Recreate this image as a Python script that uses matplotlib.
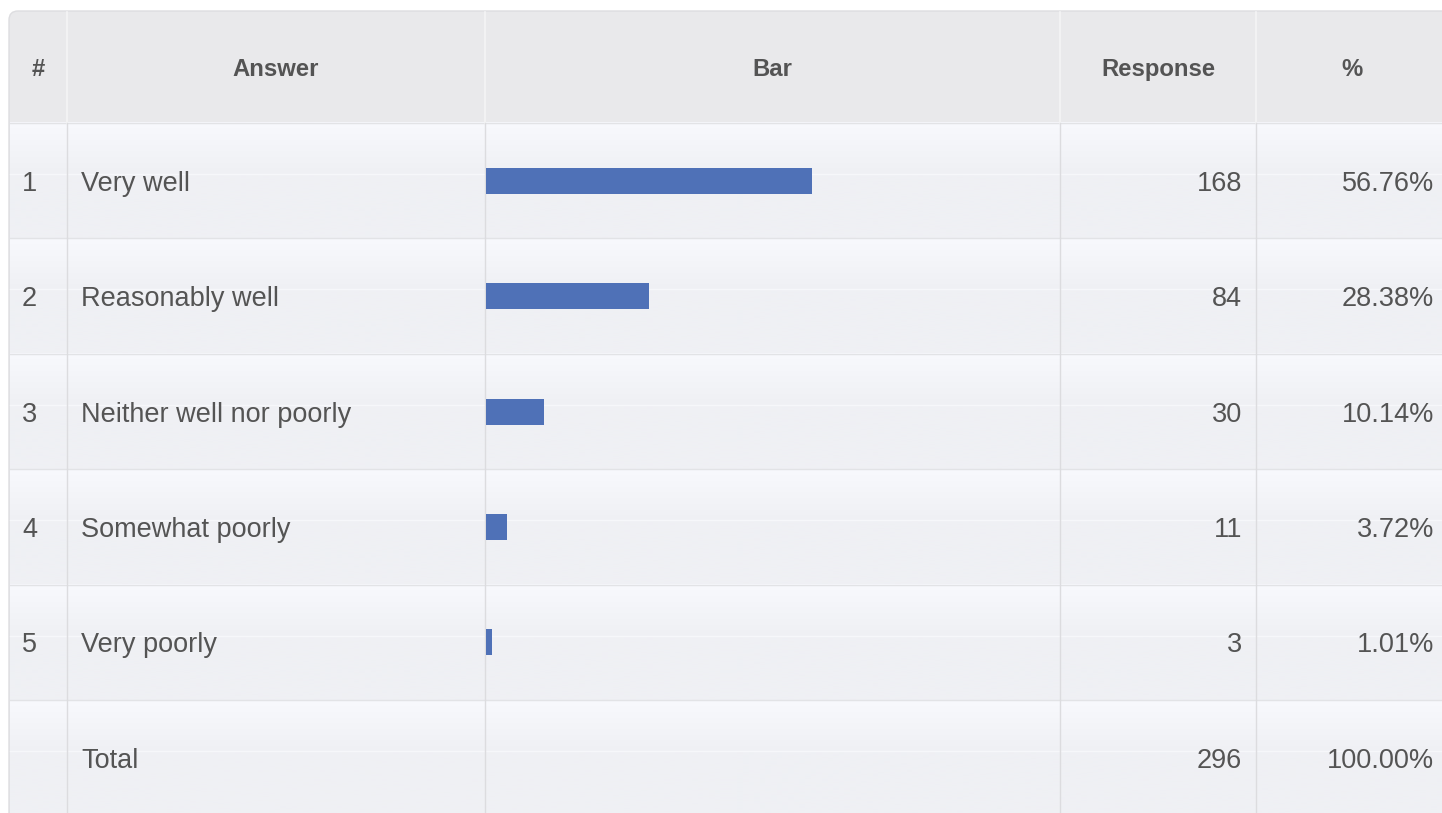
import numpy as np
import matplotlib.pyplot as plt
from matplotlib.patches import FancyBboxPatch
from matplotlib.colors import to_rgb

plt.rcParams['font.family'] = ['Liberation Sans', 'DejaVu Sans']

# survey data
numbers = ['1', '2', '3', '4', '5', '']
answers = ['Very well', 'Reasonably well', 'Neither well nor poorly',
           'Somewhat poorly', 'Very poorly', 'Total']
responses = [168, 84, 30, 11, 3, 296]
percents = [56.76, 28.38, 10.14, 3.72, 1.01, 100.00]
headers = ['#', 'Answer', 'Bar', 'Response', '%']

W, H = 1442, 813
fig = plt.figure(figsize=(W / 100, H / 100), dpi=100)
fig.patch.set_facecolor('white')
ax = fig.add_axes([0, 0, 1, 1])
ax.set_xlim(0, W)
ax.set_ylim(H, 0)
ax.axis('off')

# table layout (pixels)
left, top = 9, 11
right = 1452
col_edges = [left, 67, 485, 1060, 1256, right]
head_h = 112
row_h = 115.4
text_col = '#545454'
sep_col = '#dcdcdf'
body_fs = 19.5
head_fs = 17.2

# table body with rounded top corner
frame = FancyBboxPatch((left, top), right - left, H + 40 - top,
                       boxstyle='round,pad=0,rounding_size=9',
                       facecolor='#e9e9eb', edgecolor='#dddde0', lw=1.0, zorder=1)
ax.add_patch(frame)

# row gradients
c_top = np.array(to_rgb('#f8f9fd'))
c_mid = np.array(to_rgb('#eff0f4'))
body_top = top + head_h
n_rows = len(answers)
grad_len = 51
for i in range(n_rows):
    y0 = body_top + i * row_h
    y1 = y0 + row_h
    n = int(round(row_h))
    t = np.clip(np.arange(n) / grad_len, 0, 1)[:, None]
    img = (c_top * (1 - t) + c_mid * t)[:, None, :]
    ax.imshow(img, extent=(left + 0.5, right, y1, y0), origin='upper',
              aspect='auto', zorder=2, interpolation='bilinear')
    ax.plot([left + 0.5, right], [y0 + grad_len, y0 + grad_len],
            color='#f6f7fa', lw=1.0, zorder=3)
    ax.plot([left + 0.5, right], [y0, y0], color='#e2e3e6', lw=1.0, zorder=4)
ax.set_xlim(0, W)
ax.set_ylim(H, 0)

# vertical separators
for x in col_edges[1:-1]:
    ax.plot([x, x], [top + 1, body_top], color='#f4f4f5', lw=1.2, zorder=4)
    ax.plot([x, x], [body_top, H], color=sep_col, lw=1.0, zorder=4)

# header text
head_y = top + 58.5
for j, h in enumerate(headers):
    xc = (col_edges[j] + col_edges[j + 1]) / 2
    if j == 4:
        xc = 1352
    ax.text(xc, head_y, h, ha='center', va='center', fontsize=head_fs,
            fontweight='bold', color=text_col, zorder=5)

# body text
for i in range(n_rows):
    yc = body_top + i * row_h + row_h / 2 + 3
    ax.text(22, yc, numbers[i], ha='left', va='center', fontsize=body_fs,
            color=text_col, zorder=5)
    ax.text(81, yc, answers[i], ha='left', va='center', fontsize=body_fs,
            color=text_col, zorder=5)
    ax.text(1242, yc, f'{responses[i]}', ha='right', va='center', fontsize=body_fs,
            color=text_col, zorder=5)
    ax.text(1434, yc, f'{percents[i]:.2f}%', ha='right', va='center', fontsize=body_fs,
            color=text_col, zorder=5)

# bar column
n_bars = 5
bx0, bx1 = 486, 1060
by0 = body_top
by1 = body_top + n_bars * row_h
bax = fig.add_axes([bx0 / W, 1 - by1 / H, (bx1 - bx0) / W, (by1 - by0) / H])
bax.patch.set_alpha(0)
bax.barh(np.arange(n_bars), percents[:n_bars], height=26 / row_h,
         color='#4f71b7', zorder=6)
bax.set_xlim(0, 100)
bax.set_ylim(n_bars - 0.5, -0.5)
bax.axis('off')

fig.savefig('out.png', dpi=100, facecolor='white')
